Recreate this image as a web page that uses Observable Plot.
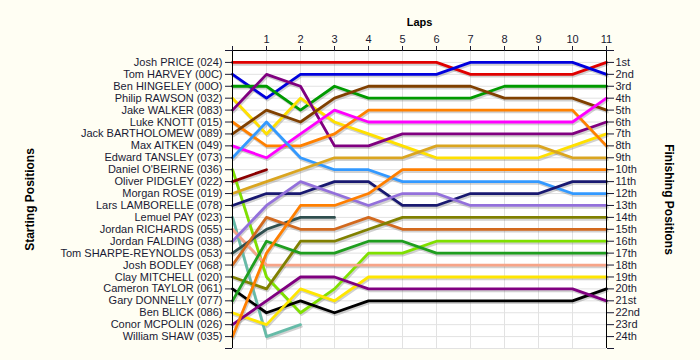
<!DOCTYPE html>
<html>
<head>
<meta charset="utf-8">
<script src="https://cdn.jsdelivr.net/npm/d3@7"></script>
<script src="https://cdn.jsdelivr.net/npm/@observablehq/plot@0.6"></script>
<style>
  html, body { margin: 0; padding: 0; background: #FFFEF3; }
</style>
</head>
<body>
<div id="chart"></div>
<script>
const laps = [0, 1, 2, 3, 4, 5, 6, 7, 8, 9, 10, 11];
const drivers = [
  "Josh PRICE (024)", "Tom HARVEY (00C)", "Ben HINGELEY (00O)", "Philip RAWSON (032)",
  "Jake WALKER (083)", "Luke KNOTT (015)", "Jack BARTHOLOMEW (089)", "Max AITKEN (049)",
  "Edward TANSLEY (073)", "Daniel O'BEIRNE (036)", "Oliver PIDGLEY (022)", "Morgan ROSE (019)",
  "Lars LAMBORELLE (078)", "Lemuel PAY (023)", "Jordan RICHARDS (055)", "Jordan FALDING (038)",
  "Tom SHARPE-REYNOLDS (053)", "Josh BODLEY (068)", "Clay MITCHELL (020)", "Cameron TAYLOR (061)",
  "Gary DONNELLY (077)", "Ben BLICK (086)", "Conor MCPOLIN (026)", "William SHAW (035)"
];
const colors = [
  "#e00000", "#0000dd", "#009a00", "#ffe000",
  "#800080", "#ff8000", "#804000", "#ff00ff",
  "#3399ff", "#7fe000", "#8b0000", "#daa520",
  "#191970", "#66bba8", "#f7a488", "#9370db",
  "#2f4f4f", "#d2691e", "#808000", "#000000",
  "#1f9e1f", "#ffe600", "#800080", "#ff7f00"
];
const ordinals = [
  "1st", "2nd", "3rd", "4th", "5th", "6th", "7th", "8th", "9th", "10th", "11th", "12th",
  "13th", "14th", "15th", "16th", "17th", "18th", "19th", "20th", "21st", "22nd", "23rd", "24th"
];
// position of each driver at laps 0..11 (null = retired)
const positions = [
  [1, 1, 1, 1, 1, 1, 1, 2, 2, 2, 2, 1],
  [2, 4, 2, 2, 2, 2, 2, 1, 1, 1, 1, 2],
  [3, 3, 5, 3, 4, 4, 4, 4, 3, 3, 3, 3],
  [4, 7, 4, 6, 7, 8, 9, 9, 9, 9, 8, 7],
  [5, 2, 3, 8, 8, 7, 7, 7, 7, 7, 7, 6],
  [6, 8, 8, 7, 5, 5, 5, 5, 5, 5, 5, 8],
  [7, 5, 6, 4, 3, 3, 3, 3, 4, 4, 4, 5],
  [8, 9, 7, 5, 6, 6, 6, 6, 6, 6, 6, 4],
  [9, 6, 9, 10, 10, 11, 11, 11, 11, 11, 12, 12],
  [10, 19, 22, 20, 17, 17, 16, 16, 16, 16, 16, 16],
  [11, 10, null, null, null, null, null, null, null, null, null, null],
  [12, 11, 10, 9, 9, 9, 8, 8, 8, 8, 9, 9],
  [13, 12, 12, 11, 11, 13, 13, 12, 12, 12, 11, 11],
  [14, 24, 23, null, null, null, null, null, null, null, null, null],
  [15, 18, 18, 18, 18, 18, 18, 18, 18, 18, 18, 18],
  [16, 13, 11, 12, 13, 12, 12, 13, 13, 13, 13, 13],
  [17, 15, 14, 14, null, null, null, null, null, null, null, null],
  [18, 14, 15, 15, 14, 15, 15, 15, 15, 15, 15, 15],
  [19, 20, 16, 16, 15, 14, 14, 14, 14, 14, 14, 14],
  [20, 22, 21, 22, 21, 21, 21, 21, 21, 21, 21, 20],
  [21, 16, 17, 17, 16, 16, 17, 17, 17, 17, 17, 17],
  [22, 23, 20, 21, 19, 19, 19, 19, 19, 19, 19, 19],
  [23, 21, 19, 19, 20, 20, 20, 20, 20, 20, 20, 21],
  [24, 17, 13, 13, 12, 10, 10, 10, 10, 10, 10, 10]
];

const rows = [];
drivers.forEach((name, i) => {
  laps.forEach((lap, j) => {
    const p = positions[i][j];
    if (p != null) rows.push({driver: name, lap, pos: p});
  });
});

const allTicks = d3.range(0, 26);
const textColor = "#1a1a33";

const chart = Plot.plot({
  width: 700,
  height: 360,
  marginLeft: 232,
  marginRight: 94,
  marginTop: 50,
  marginBottom: 12,
  style: {background: "#FFFEF3", fontFamily: "'Liberation Sans', Arial, sans-serif", fontSize: "11px", color: textColor},
  x: {domain: [0, 11], axis: null},
  y: {domain: [0, 25], reverse: true, axis: null},
  color: {domain: drivers, range: colors},
  marks: [
    Plot.frame({fill: "white", stroke: null}),
    Plot.gridX({ticks: laps, stroke: "#e2e2e2", strokeOpacity: 1}),
    Plot.gridY({ticks: allTicks, stroke: "#e2e2e2", strokeOpacity: 1}),
    Plot.line(rows, {x: "lap", y: "pos", z: "driver", stroke: "#666", strokeOpacity: 0.3, strokeWidth: 2.5, dx: 1, dy: 2}),
    Plot.line(rows, {x: "lap", y: "pos", z: "driver", stroke: "driver", strokeWidth: 2.8}),
    Plot.ruleY([0], {stroke: "black"}),
    Plot.ruleX([0], {stroke: "black"}),
    Plot.ruleX([11], {stroke: "black"}),
    Plot.axisX({anchor: "top", ticks: laps, tickSize: 5, tickPadding: 3, tickFormat: d => d === 0 ? "" : String(d), label: null, fill: textColor}),
    Plot.axisY({anchor: "left", ticks: allTicks, tickSize: 7, tickPadding: 3, tickFormat: d => (d >= 1 && d <= 24) ? drivers[d - 1] : "", label: null, fill: textColor}),
    Plot.axisY({anchor: "right", ticks: allTicks, tickSize: 7, tickPadding: 2, tickFormat: d => (d >= 1 && d <= 24) ? ordinals[d - 1] : "", label: null, fill: textColor}),
    Plot.text(["Laps"], {frameAnchor: "top", dy: -32, text: d => d, fontWeight: "bold", fontSize: 11, fill: "black", textAnchor: "middle"}),
    Plot.text(["Starting Positions"], {frameAnchor: "left", dx: -202, text: d => d, rotate: -90, fontWeight: "bold", fontSize: 12, fill: "black", textAnchor: "middle"}),
    Plot.text(["Finishing Positions"], {frameAnchor: "right", dx: 62, text: d => d, rotate: 90, fontWeight: "bold", fontSize: 12, fill: "black", textAnchor: "middle"})
  ]
});
document.getElementById("chart").appendChild(chart);
</script>
</body>
</html>
